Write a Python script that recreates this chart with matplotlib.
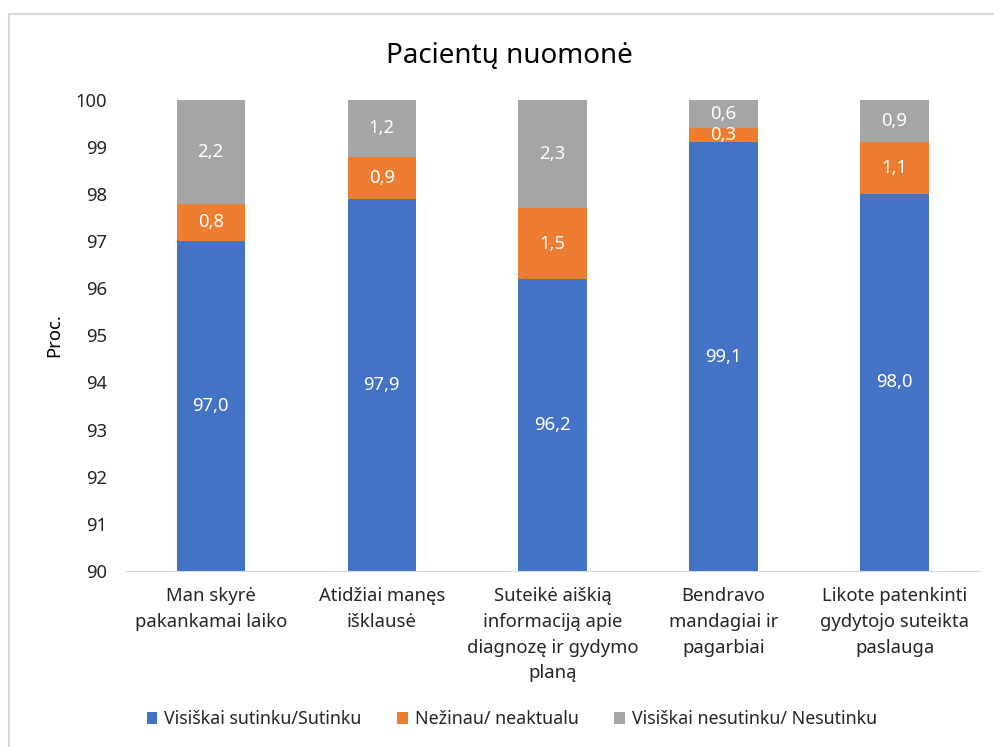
import numpy as np
import matplotlib.pyplot as plt
from matplotlib.patches import Rectangle

plt.rcParams['font.family'] = ['Noto Sans', 'DejaVu Sans']

categories = ["Man skyrė\npakankamai laiko", "Atidžiai manęs\nišklausė",
              "Suteikė aiškią\ninformaciją apie\ndiagnozę ir gydymo\nplaną",
              "Bendravo\nmandagiai ir\npagarbiai",
              "Likote patenkinti\ngydytojo suteikta\npaslauga"]
agree = [97.0, 97.9, 96.2, 99.1, 98.0]
unsure = [0.8, 0.9, 1.5, 0.3, 1.1]
disagree = [2.2, 1.2, 2.3, 0.6, 0.9]
series_names = ["Visiškai sutinku/Sutinku", "Nežinau/ neaktualu",
                "Visiškai nesutinku/ Nesutinku"]
colors = ["#4472C4", "#ED7D31", "#A5A5A5"]

txt = "#262626"
fs = 13.3
fig = plt.figure(figsize=(9.94, 7.47), dpi=100)
ax = fig.add_axes([0.126, 0.236, 0.86, 0.63])

x = np.arange(len(categories))
bottom = np.zeros(len(categories))
for vals, name, c in zip([agree, unsure, disagree], series_names, colors):
    ax.bar(x, vals, 0.4, bottom=bottom, color=c, label=name)
    for xi, b, v in zip(x, bottom, vals):
        lo = max(b, 90)
        ax.text(xi, (lo + b + v) / 2, f"{v:.1f}".replace(".", ","),
                ha="center", va="center", color="white", fontsize=fs)
    bottom += np.array(vals)

ax.set_ylim(90, 100)
ax.set_xlim(-0.5, len(categories) - 0.5)
ax.set_yticks(range(90, 101))
ax.set_xticks(x)
ax.set_xticklabels(categories, fontsize=fs, color=txt, linespacing=1.55)
ax.tick_params(axis="y", labelsize=fs, labelcolor=txt, length=0, pad=13)
ax.tick_params(axis="x", length=0, pad=12)
for s in ["top", "right", "left"]:
    ax.spines[s].set_visible(False)
ax.spines["bottom"].set_color("#D9D9D9")
ax.set_ylabel("Proc.", fontsize=fs, color="black", labelpad=9)

fig.text(0.512, 0.925, "Pacientų nuomonė", ha="center", va="center",
         fontsize=20, color="black")

fig.legend(loc="center", bbox_to_anchor=(0.515, 0.037), ncol=3, frameon=False,
           fontsize=12.8, handlelength=0.6, handleheight=0.6, handletextpad=0.4,
           columnspacing=2.0, labelcolor=txt)

fig.patches.append(Rectangle((9 / 994, -0.05), 1.0, 1 - 14 / 747 + 0.05,
                             transform=fig.transFigure, fill=False,
                             edgecolor="#D9D9D9", linewidth=1.5))

fig.savefig("out.png", dpi=100)
